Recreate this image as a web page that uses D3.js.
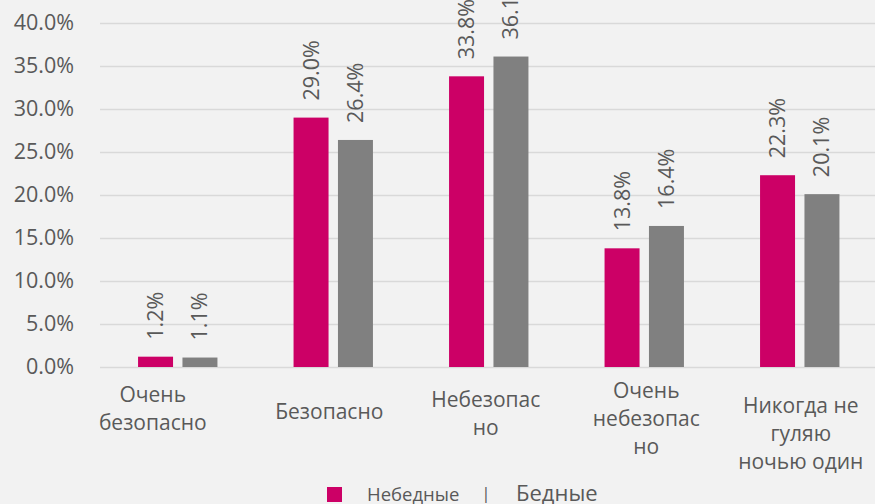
<!DOCTYPE html>
<html>
<head>
<meta charset="utf-8">
<script src="https://cdn.jsdelivr.net/npm/d3@7"></script>
<style>
  html, body { margin: 0; padding: 0; background: #f2f2f2; }
  svg { display: block; font-family: "Open Sans", "Noto Sans", sans-serif; }
</style>
</head>
<body>
<div id="container"></div>
<script>
/* DATA */
const categories = ["Очень безопасно", "Безопасно", "Небезопасно", "Очень небезопасно", "Никогда не гуляю ночью один"]
const categoryLines = [["Очень", "безопасно"], ["Безопасно"], ["Небезопас", "но"], ["Очень", "небезопас", "но"], ["Никогда не", "гуляю", "ночью один"]]
const series = ["Небедные", "Бедные"]
const notPoor = [1.2, 29.0, 33.8, 13.8, 22.3]
const poor = [1.1, 26.4, 36.1, 16.4, 20.1]
const yTicks = [0, 5, 10, 15, 20, 25, 30, 35, 40]

/* CONSTANTS */
const width = 875,
  height = 504,
  margin = { top: 23, bottom: 137, left: 100, right: -2.5 },
  colors = { "Небедные": "#cc0066", "Бедные": "#808080" },
  textColor = "#595959"

const formatPct = d => d3.format(".1%")(d / 100)

const rows = categories.map((c, i) => ({ cat: c, lines: categoryLines[i], values: [
  { key: series[0], value: notPoor[i] },
  { key: series[1], value: poor[i] }
] }))

const svg = d3.select("#container")
  .append("svg")
  .attr("width", width)
  .attr("height", height)

svg.append("rect")
  .attr("width", width)
  .attr("height", height)
  .attr("fill", "#f2f2f2")

const xScale = d3.scaleBand()
  .domain(categories)
  .range([margin.left, width - margin.right])

const xInner = d3.scaleBand()
  .domain(series)
  .range([-39.7, 39.7])
  .paddingInner(0.212)

const yScale = d3.scaleLinear()
  .domain([0, 40])
  .range([height - margin.bottom, margin.top])

// gridlines + tick labels
const yAxis = d3.axisLeft(yScale)
  .tickValues(yTicks)
  .tickSize(-(width - margin.left))
  .tickPadding(26)
  .tickFormat(formatPct)

const yAxisGroup = svg.append("g")
  .attr("transform", `translate(${margin.left}, 0)`)
  .call(yAxis)

yAxisGroup.select(".domain").remove()
yAxisGroup.selectAll(".tick line")
  .attr("stroke", "#d9d9d9")
  .attr("stroke-width", 1.5)
yAxisGroup.selectAll(".tick text")
  .attr("fill", textColor)
  .attr("font-size", 21.5)
  .attr("font-family", "Open Sans")

// bars
const groups = svg.selectAll(".group")
  .data(rows)
  .join("g")
  .attr("class", "group")
  .attr("transform", d => `translate(${xScale(d.cat) + xScale.bandwidth() / 2}, 0)`)

groups.selectAll("rect")
  .data(d => d.values)
  .join("rect")
  .attr("x", d => xInner(d.key))
  .attr("y", d => yScale(d.value))
  .attr("width", xInner.bandwidth())
  .attr("height", d => yScale(0) - yScale(d.value))
  .attr("fill", d => colors[d.key])

// value labels, rotated
groups.selectAll(".valueLabel")
  .data(d => d.values)
  .join("text")
  .attr("class", "valueLabel")
  .attr("transform", d => `translate(${xInner(d.key) + xInner.bandwidth() / 2}, ${yScale(d.value) - 17}) rotate(-90)`)
  .attr("dy", "0.35em")
  .attr("text-anchor", "start")
  .attr("fill", textColor)
  .attr("font-size", 21.5)
  .text(d => formatPct(d.value))

// category labels (wrapped like the original), y = baseline of the middle line
const lineHeight = 28
const nudge = {
  "Очень безопасно": [-25, -5],
  "Безопасно": [-4, -2],
  "Очень небезопасно": [2, 5],
  "Никогда не гуляю ночью один": [1, 20]
}

const catLabels = svg.selectAll(".catLabel")
  .data(rows)
  .join("text")
  .attr("class", "catLabel")
  .attr("text-anchor", "middle")
  .attr("fill", textColor)
  .attr("font-size", 21)
  .attr("transform", d => {
    const n = nudge[d.cat] || [-3, 0]
    const cx = xScale(d.cat) + xScale.bandwidth() / 2 + n[0]
    const cy = 421 + n[1] - (d.lines.length - 1) * lineHeight / 2
    return `translate(${cx}, ${cy})`
  })

catLabels.selectAll("tspan")
  .data(d => d.lines)
  .join("tspan")
  .attr("x", 0)
  .attr("y", (d, i) => i * lineHeight)
  .text(d => d)

// legend
const legend = svg.append("g")
  .attr("class", "legend")

legend.append("rect")
  .attr("x", 327)
  .attr("y", 487)
  .attr("width", 15)
  .attr("height", 15)
  .attr("fill", colors[series[0]])

legend.append("text")
  .attr("x", 367)
  .attr("y", 501)
  .attr("fill", textColor)
  .attr("font-size", 18.5)
  .text(series[0])

legend.append("text")
  .attr("x", 486)
  .attr("y", 499)
  .attr("text-anchor", "middle")
  .attr("fill", textColor)
  .attr("font-size", 17)
  .text("|")

legend.append("text")
  .attr("x", 516)
  .attr("y", 501)
  .attr("fill", textColor)
  .attr("font-size", 22)
  .text(series[1])
</script>
</body>
</html>
